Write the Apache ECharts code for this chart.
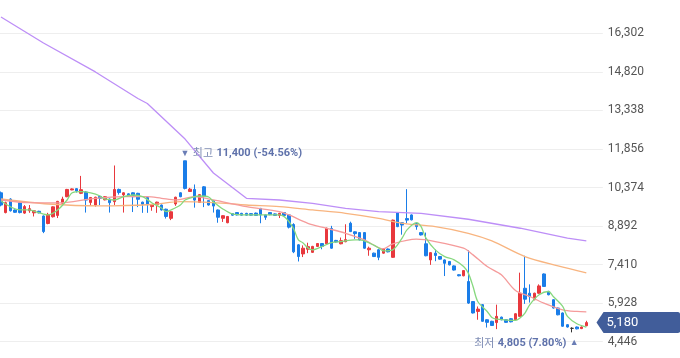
<!DOCTYPE html>
<html><head><meta charset="utf-8">
<script src="https://cdn.jsdelivr.net/npm/echarts@6/dist/echarts.min.js"></script>
<style>html,body{margin:0;padding:0;background:#fff}#c{width:680px;height:358px}</style>
</head><body><div id="c"></div>
<script>
// Candle values [open, close, low, high] split into named arrays
const opens  = [10170,9410,9930,9510,9790,9390,9480,9400,9460,9280,8990,9250,9300,9770,10020,10280,10330,10150,10200,9800,9700,10030,9900,9930,9830,10300,10090,10130,10170,10150,9810,9990,9640,9720,9700,9540,9190,9740,10170,11400,10220,10300,9800,10400,9870,9860,9510,9190,9020,9370,9410,9380,9380,9370,9390,9570,9320,9410,9360,9300,9410,9320,8950,8170,7820,8000,7880,8110,8220,8210,8800,8340,8210,8290,9000,8670,8640,8640,7980,7850,7980,7850,8010,7690,9410,9020,9180,9320,8990,8640,8210,7590,7850,7720,7590,7530,7360,7020,6980,6760,5990,5610,5870,5290,5230,5180,5390,5290,5330,5290,5420,6500,6310,6060,6310,7050,6380,6060,5740,5550,5100,4960,5010,4950,5060];
const closes = [9700,9790,9480,9420,9410,9640,9560,9480,9400,8680,9340,9630,9840,9930,10300,10320,10240,10290,9890,9990,10000,9960,10020,9790,10300,10180,10170,10050,10020,9920,9730,9710,9700,9810,9510,9260,9440,10000,10020,10340,10310,9890,10100,10040,9700,9660,9230,9290,9260,9310,9320,9310,9310,9310,9300,9320,9230,9330,9300,9380,9300,8850,7900,7720,8040,8100,8110,8220,8110,8810,8040,8280,8330,8370,8680,8600,8360,8040,8040,7720,7690,8010,7900,9120,8870,8930,9120,9130,8870,8550,7750,7870,7760,7620,7460,7400,7200,6980,7180,5930,5550,5700,5230,5190,5070,5420,5290,5190,5210,5520,6310,6080,6180,6310,6590,6570,6250,5740,5480,5040,5010,4960,4940,5010,5180];
const lows   = [9650,9380,9450,9400,9380,9360,9400,9260,9380,8620,8960,9220,9200,9750,10000,10270,10180,10120,9410,9700,9640,9700,9880,9410,9700,10100,9410,10030,9430,9620,9400,9400,9480,9400,9490,9180,9120,9670,10000,10300,10200,9600,9780,9620,9680,9410,9020,9050,9000,9290,9300,9290,9290,9290,9280,9000,9130,9310,9280,9200,9280,8800,7850,7530,7700,7850,7860,8090,8000,8190,8020,8260,8190,8270,8660,8400,8340,8020,7750,7700,7580,7830,7880,7670,8850,8560,9000,9110,8750,8530,7730,7400,7540,7600,6970,7380,7180,6960,6960,5900,5530,5290,5210,4990,5050,4930,5270,5170,5190,5270,5400,5900,5950,6040,6290,6550,6230,5720,5460,5020,4990,4805,4920,4930,5040];
const highs  = [10220,9830,9960,9530,9820,9700,9700,9500,9480,9300,9400,9650,9860,10020,10320,10340,10350,10820,10240,10010,10020,10040,10040,9950,11220,10330,10190,10150,10190,10170,9830,10010,9720,9830,9720,9560,9460,10020,10190,11400,10360,10490,10120,10430,9890,9880,9530,9310,9280,9390,9420,9400,9400,9390,9410,9590,9340,9430,9380,9400,9430,9340,9000,8200,8150,8250,8130,8240,8240,8830,8900,8360,8450,8960,9060,8690,8660,8660,8100,7870,8000,8030,8030,9140,9430,9040,10310,9340,9010,8660,8640,7890,7990,7740,7610,7550,7380,7040,7200,7960,6010,5800,5890,5310,5250,5870,5410,5310,5350,5540,7100,7750,6650,6330,6650,7070,6400,6080,5760,5570,5120,5000,5030,5030,5250];

// Moving averages as [candle index, value]
const ma5 = [[0,9855],[4,9510],[6,9510],[8,9405],[10,9319],[12,9510],[14,9894],[15,10163],[17,10213],[19,10163],[21,10047],[22,9932],[24,9894],[26,10020],[28,10086],[30,10020],[32,9780],[34,9588],[35,9445],[36,9510],[38,9702],[39,9894],[41,10020],[42,10047],[44,10009],[45,9830],[47,9550],[49,9357],[52,9319],[59,9319],[60,9254],[61,9062],[62,8782],[63,8359],[64,8244],[65,8053],[66,7976],[68,8103],[70,8256],[72,8295],[75,8359],[76,8359],[78,8244],[80,8053],[81,7938],[83,7976],[84,8168],[85,8436],[86,8743],[88,9023],[89,8870],[90,8436],[92,7976],[94,7719],[96,7592],[98,7335],[99,7082],[100,6568],[101,5992],[103,5608],[104,5378],[105,5317],[109,5263],[110,5366],[111,5547],[112,5865],[114,6249],[116,6376],[117,6184],[119,5800],[120,5417],[122,5136],[124,5010]];
const ma20 = [[0,9894],[6,9790],[12,9780],[20,9958],[26,10020],[31,10020],[34,9958],[37,9894],[41,10020],[45,9894],[52,9637],[59,9445],[61,9319],[65,8998],[69,8807],[73,8615],[77,8359],[81,8014],[83,8206],[88,8386],[92,8295],[98,8040],[100,7784],[103,7335],[106,7017],[109,6414],[112,6184],[115,5930],[119,5673],[122,5608],[124,5596]];
const ma60 = [[0,9932],[10,9740],[21,9664],[32,9721],[38,9830],[45,9790],[52,9702],[59,9637],[66,9510],[73,9383],[80,9190],[85,8998],[92,8870],[99,8615],[104,8320],[111,7719],[118,7362],[124,7093]];
const ma120 = [[0,16928],[9,15930],[20,14817],[29,13796],[31,13604],[39,12235],[45,10930],[52,9958],[59,9894],[66,9767],[73,9575],[80,9445],[89,9383],[99,9153],[110,8808],[120,8425],[124,8321]];

const yTicks = [4446,5928,7410,8892,10374,11856,13338,14820,16302];
const highIdx = 39, highVal = 11400, highText = '11,400 (-54.56%)';
const lowIdx = 121, lowVal = 4805, lowText = '4,805 (7.80%)';
const lastVal = 5180, lastText = '5,180';

const days = opens.map((_, i) => 'D' + (i + 1));
const cats = days.concat(['P1', 'P2', 'P3']);
const candles = opens.map((o, i) => [o, closes[i], lows[i], highs[i]]);

const chart = echarts.init(document.getElementById('c'), null, {renderer: 'canvas'});
const lineS = (name, data, color, smooth) => ({
  name, type: 'line', data, smooth, showSymbol: false, symbol: 'none',
  lineStyle: {color, width: 1.3}, z: 3, silent: true, connectNulls: true
});
const richSt = {
  t: {color: '#6a7db5', fontSize: 9},
  k: {color: '#7f8db5', fontSize: 11, fontFamily: '"Noto Sans CJK KR"'},
  v: {color: '#5f72ab', fontSize: 11, fontWeight: 'bold', fontFamily: 'Roboto, sans-serif'}
};
chart.setOption({
  animation: false,
  backgroundColor: '#ffffff',
  grid: {left: -1.36, width: 604.2, top: -5.25, height: 385.5, containLabel: false, outerBoundsMode: 'none'},
  xAxis: {type: 'category', data: cats, boundaryGap: true, show: true,
    axisLine: {show: false}, axisTick: {show: false}, axisLabel: {show: false}, splitLine: {show: false}},
  yAxis: {type: 'value', position: 'right', min: 2964, max: 17784, interval: 1482, scale: false,
    axisLine: {show: false}, axisTick: {show: false},
    splitLine: {lineStyle: {color: '#eeeeee', width: 1}},
    axisLabel: {margin: 5, color: '#555555', fontSize: 12, fontFamily: 'Roboto, "Noto Sans", sans-serif',
      formatter: v => yTicks.indexOf(v) >= 0 ? v.toLocaleString('en-US') : ''}},
  series: [
    lineS('MA120', ma120, '#bd8ef7', false),
    lineS('MA60', ma60, '#f8b47f', 0.3),
    lineS('MA20', ma20, '#f59b9b', 0.3),
    {
      name: 'price', type: 'candlestick', data: candles, barWidth: 3, z: 2,
      itemStyle: {color: '#e8383d', color0: '#1a7de8', borderColor: '#e8383d', borderColor0: '#1a7de8', borderColorDoji: '#333333', borderWidth: 1},
      markPoint: {
        symbol: 'circle', symbolSize: 1, silent: true,
        itemStyle: {color: 'rgba(0,0,0,0)'},
        data: [
          {coord: [highIdx, highVal],
            label: {show: true, position: [-4, -7], align: 'left', verticalAlign: 'middle',
              formatter: '{t|▼} {k|최고} {v|' + highText + '}', rich: richSt}},
          {coord: [lowIdx, lowVal],
            label: {show: true, position: [7, 11], align: 'right', verticalAlign: 'middle',
              formatter: '{k|최저} {v|' + lowText + '} {t|▲}', rich: richSt}},
          {coord: [127, lastVal], symbol: 'path://M0,10L7,0L80,0Q83,0 83,3L83,17Q83,20 80,20L7,20Z',
            symbolSize: [84, 21], symbolKeepAspect: false, symbolOffset: [38, 0],
            itemStyle: {color: '#415d9a'},
            label: {show: true, position: 'insideLeft', distance: 10, formatter: lastText,
              color: '#ffffff', fontSize: 13, fontFamily: 'Roboto, "Noto Sans", sans-serif'}}
        ]
      }
    },
    lineS('MA5', ma5, '#86d87e', 0.3)
  ]
});
</script></body></html>
